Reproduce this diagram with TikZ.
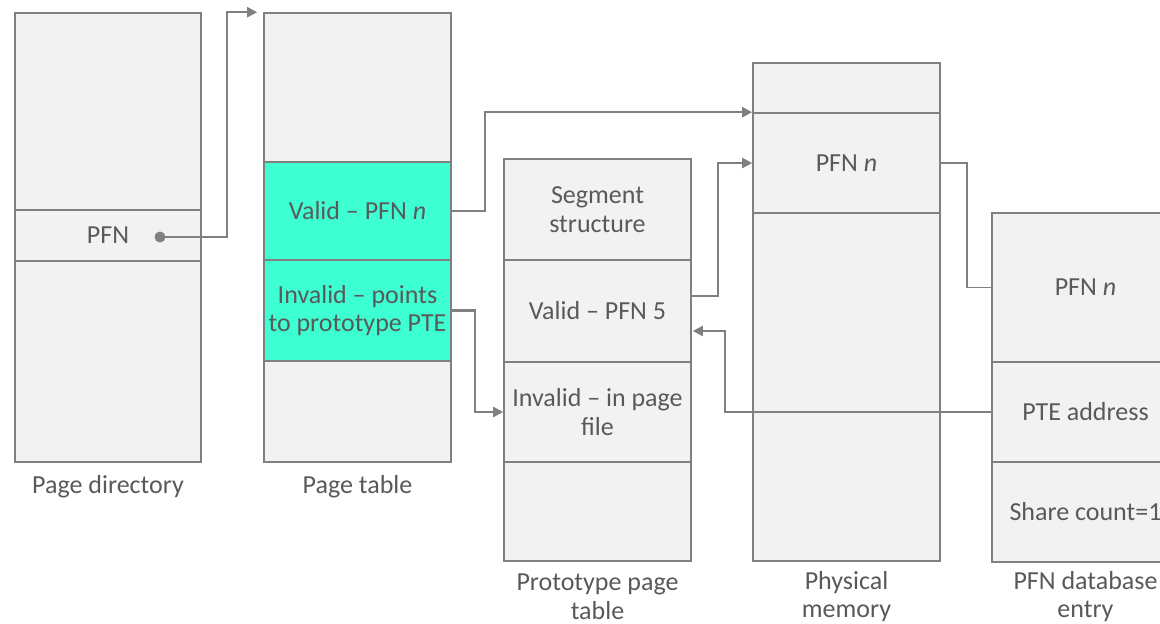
\documentclass[tikz,border=0pt]{standalone}
\usepackage{fontspec}
\setmainfont{Carlito}
\usetikzlibrary{arrows.meta}
\definecolor{cellfill}{RGB}{242,242,242}
\definecolor{cellline}{RGB}{128,128,128}
\definecolor{txtgray}{RGB}{89,89,89}
\definecolor{validgreen}{RGB}{61,255,210}
\tikzset{
  cell/.style={draw=cellline, fill=cellfill, line width=1.6pt, rectangle,
    minimum width=187pt, inner sep=0pt, align=center, text=txtgray,
    font=\fontsize{26}{28.5}\selectfont},
  hot/.style={cell, fill=validgreen},
  caption/.style={text=txtgray, align=center, inner sep=0pt,
    font=\fontsize{26}{28.5}\selectfont},
  conn/.style={draw=cellline, line width=2.2pt},
  arr/.style={conn, -{Triangle[length=10pt,width=10pt]}},
}
\begin{document}
\begin{tikzpicture}[x=1pt,y=-1pt]
\useasboundingbox (0,0) rectangle (1160,624);
\clip (0,0) rectangle (1160,624);

% Page directory
\node[cell, minimum width=186pt, minimum height=197pt] (pd1) at (108,111.5) {};
\node[cell, minimum width=186pt, minimum height=51pt]  (pd2) at (108,235.5) {PFN};
\node[cell, minimum width=186pt, minimum height=201pt] (pd3) at (108,361.5) {};
\coordinate (dot) at (160,237);

% Page table
\node[cell, minimum height=149pt] (pt1) at (357.5,87.5) {};
\node[hot,  minimum height=98pt]  (pt2) at (357.5,211) {Valid – PFN \textit{n}};
\node[hot,  minimum height=101pt] (pt3) at (357.5,310.5) {Invalid – points\\to prototype PTE};
\node[cell, minimum height=101pt] (pt4) at (357.5,411.5) {};

% Prototype page table
\node[cell, minimum height=101pt] (pp1) at (597.5,209.5) {Segment\\structure};
\node[cell, minimum height=102pt] (pp2) at (597.5,311) {Valid – PFN 5};
\node[cell, minimum height=100pt] (pp3) at (597.5,412) {Invalid – in page\\file};
\node[cell, minimum height=99pt]  (pp4) at (597.5,511.5) {};

% Physical memory
\node[cell, minimum height=50pt]  (pm1) at (846.5,88) {};
\node[cell, minimum height=100pt] (pm2) at (846.5,163) {PFN \textit{n}};
\node[cell, minimum height=348pt] (pm3) at (846.5,387) {};

% PFN database entry
\node[cell, minimum height=149pt] (db1) at (1085.5,287.5) {PFN \textit{n}};
\node[cell, minimum height=100pt] (db2) at (1085.5,412) {PTE address};
\node[cell, minimum height=100pt] (db3) at (1085.5,512) {Share count=1};

% Captions
\node[caption] (cpd) at (108,487) {Page directory};
\node[caption] (cpt) at (357.5,487) {Page table};
\node[caption] (cpp) at (597.5,596.5) {Prototype page\\table};
\node[caption] (cpm) at (846.5,596.5) {Physical\\memory};
\node[caption] (cdb) at (1085.5,596.5) {PFN database\\entry};

% Connectors
\fill[cellline] (dot) circle (5.5pt);
\draw[arr] (dot) -- ++(67,0) |- ([xshift=-6pt]pt1.north west);
\draw[arr] (pt2.east) -- ++(33,0) |- (pm2.north west);
\draw[arr] (pt3.east) -- ++(23,0) |- (pp3.west);
\draw[arr] ([yshift=15pt]pp2.east) -- ++(26,0) |- (pm2.west);
\draw[conn, line width=1.6pt] (pm2.east) -- ++(26,0) |- (db1.west);
\draw[arr] (db2.west) -- ++(-266,0) |- ([yshift=-20pt,xshift=1pt]pp2.east);
\end{tikzpicture}
\end{document}
